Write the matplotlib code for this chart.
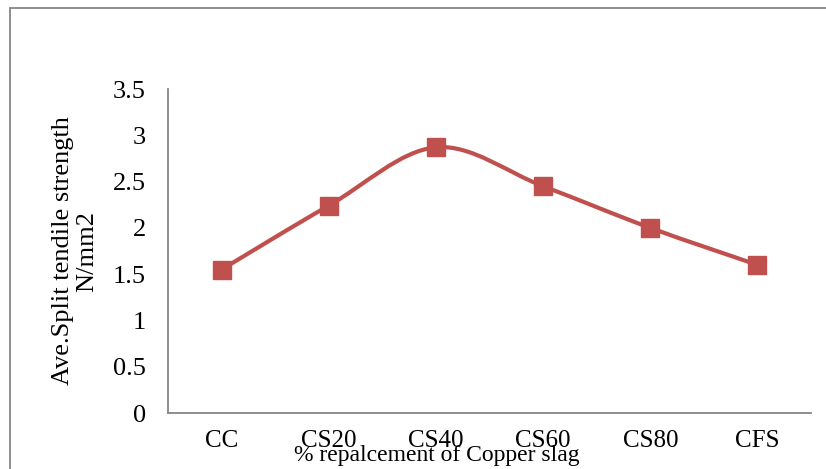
import numpy as np
import matplotlib.pyplot as plt
from matplotlib.path import Path
from matplotlib.patches import PathPatch, Rectangle

# Data
categories = ["CC", "CS20", "CS40", "CS60", "CS80", "CFS"]
strength = [1.55, 2.24, 2.87, 2.45, 2.0, 1.6]
yticks = [0, 0.5, 1, 1.5, 2, 2.5, 3, 3.5]
ytick_labels = ["0", "0.5", "1", "1.5", "2", "2.5", "3", "3.5"]

red = "#C0504D"
grey = "#868686"

plt.rcParams["font.family"] = ["Liberation Serif", "DejaVu Serif"]

fig = plt.figure(figsize=(8.26, 4.69), dpi=100)
ax = fig.add_axes([168/826, 1 - 413/469, (811-168)/826, (413-89)/469])

# Excel-like smoothed line: cubic Bezier segments through the points
x = np.arange(len(categories), dtype=float)
pts = np.column_stack([x, strength])
verts = [pts[0]]
codes = [Path.MOVETO]
n = len(pts)
for i in range(n - 1):
    p0 = pts[i - 1] if i > 0 else pts[i]
    p1 = pts[i]
    p2 = pts[i + 1]
    p3 = pts[i + 2] if i + 2 < n else pts[i + 1]
    c1 = p1 + (p2 - p0) / 6
    c2 = p2 - (p3 - p1) / 6
    verts += [c1, c2, p2]
    codes += [Path.CURVE4] * 3
ax.add_patch(PathPatch(Path(verts, codes), facecolor="none", edgecolor=red,
                       lw=3, capstyle="round", joinstyle="round", zorder=2))
ax.plot(x, strength, linestyle="none", marker="s", markersize=13.5,
        color=red, zorder=3)

ax.set_xlim(-0.5, len(categories) - 0.5)
ax.set_ylim(0, 3.5)
ax.set_xticks(x)
ax.set_xticklabels(categories)
ax.set_yticks(yticks)
ax.set_yticklabels(ytick_labels)
ax.tick_params(axis="both", length=0, colors="black")
ax.tick_params(axis="y", pad=16, labelsize=19)
ax.tick_params(axis="x", pad=12, labelsize=18)

for s in ["top", "right"]:
    ax.spines[s].set_visible(False)
for s in ["left", "bottom"]:
    ax.spines[s].set_color(grey)
    ax.spines[s].set_linewidth(1.3)

ax.set_ylabel("Ave.Split tendile strength\nN/mm2", fontsize=19,
              linespacing=1.12, va="center")
ax.yaxis.set_label_coords((75 - 168) / 643, 0.5)
ax.set_xlabel("% repalcement of Copper slag", fontsize=17, va="center")
ax.xaxis.set_label_coords((437 - 168) / 643, (413 - 455) / 324)

# outer chart border (only top and left edges are inside the picture)
fig.patches.append(Rectangle((10/826, -0.1), 1.2, 1.1 - 8/469,
                             transform=fig.transFigure, fill=False,
                             edgecolor=grey, lw=1.3))

fig.savefig("out.png", dpi=100)
